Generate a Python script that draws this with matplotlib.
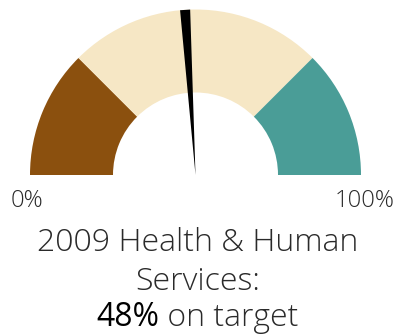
import numpy as np
import matplotlib
matplotlib.use("Agg")
import matplotlib.pyplot as plt
from matplotlib import font_manager
from matplotlib.patches import Wedge, Polygon

# gauge bands (percent) and colours
band_edges = [0, 25, 75, 100]
band_colors = ["#8B500E", "#F6E7C5", "#4A9D97"]
value = 48
title_lines = ["2009 Health & Human", "Services:"]
value_label = "48%"
value_suffix = " on target"

# pick a light-weight face if one is installed
light_fam, light_w = "DejaVu Sans", "normal"
for fam in ["Open Sans", "Lato", "Roboto", "Noto Sans"]:
    if any(f.name == fam and f.weight in (300, "light") for f in font_manager.fontManager.ttflist):
        light_fam, light_w = fam, 300
        break

W, H = 398, 336
fig = plt.figure(figsize=(W / 100, H / 100), dpi=100)
ax = fig.add_axes([0, 0, 1, 1])
ax.set_xlim(0, W)
ax.set_ylim(0, H)
ax.set_aspect("equal")
ax.axis("off")

cx, cy = 195.5, H - 175
r_out, r_in = 165.5, 82.5


def pct_to_deg(p):
    return 180 - p * 1.8


for lo, hi, col in zip(band_edges[:-1], band_edges[1:], band_colors):
    ax.add_patch(Wedge((cx, cy), r_out, pct_to_deg(hi), pct_to_deg(lo),
                       width=r_out - r_in, facecolor=col, edgecolor="none"))

# needle: thin triangle from the hub out to the rim
a = np.radians(pct_to_deg(value))
half = np.radians(1.75)
pts = [(cx, cy),
       (cx + r_out * np.cos(a - half), cy + r_out * np.sin(a - half)),
       (cx + r_out * np.cos(a + half), cy + r_out * np.sin(a + half))]
ax.add_patch(Polygon(pts, closed=True, facecolor="black", edgecolor="none"))

txt = dict(family=light_fam, weight=light_w, color="#2a2a2a", va="center")
ax.text(11, H - 201, "0%", fontsize=17, ha="left", **txt)
ax.text(395, H - 201, "100%", fontsize=17, ha="right", **txt)

ax.text(cx + 2, H - 243, title_lines[0], fontsize=23, ha="center", **txt)
ax.text(cx + 2, H - 282, title_lines[1], fontsize=23, ha="center", **txt)

# last line: value in regular weight followed by the light suffix, centred as a pair
t1 = ax.text(0, H - 318, value_label, fontsize=23, family=light_fam, weight="normal",
             color="black", ha="left", va="center")
t2 = ax.text(0, H - 318, value_suffix, fontsize=23, ha="left", **txt)
fig.canvas.draw()
r = fig.canvas.get_renderer()
w1 = t1.get_window_extent(r).width
w2 = t2.get_window_extent(r).width
x0 = cx + 2 - (w1 + w2) / 2
t1.set_x(x0)
t2.set_x(x0 + w1)

fig.savefig("out.png", dpi=100)
